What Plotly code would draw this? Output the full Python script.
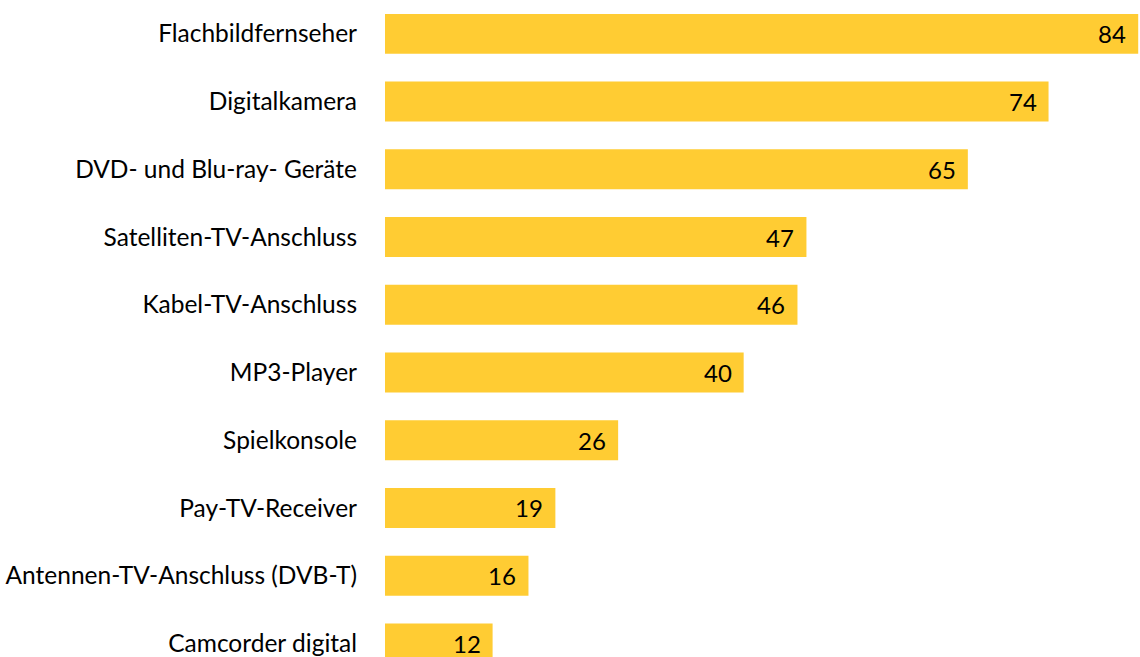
import plotly.graph_objects as go

geraete = ['Flachbildfernseher', 'Digitalkamera', 'DVD- und Blu-ray- Geräte',
           'Satelliten-TV-Anschluss', 'Kabel-TV-Anschluss', 'MP3-Player',
           'Spielkonsole', 'Pay-TV-Receiver', 'Antennen-TV-Anschluss (DVB-T)',
           'Camcorder digital']
werte = [84, 74, 65, 47, 46, 40, 26, 19, 16, 12]

fig = go.Figure(go.Bar(
    x=werte, y=geraete, orientation='h',
    marker=dict(color='#FFCC33', line=dict(width=0)),
    hoverinfo='x+y',
))

# Werte rechts in den Balken
for g, w in zip(geraete, werte):
    fig.add_annotation(x=w, y=g, text=str(w), showarrow=False,
                       xanchor='right', xshift=-10,
                       font=dict(size=24, color='black', family='Lato'))

fig.update_layout(
    width=1140, height=657,
    margin=dict(l=385, r=0, t=0, b=0, pad=0),
    plot_bgcolor='white', paper_bgcolor='white',
    bargap=0.41,
    font=dict(family='Lato', size=24.5, color='black'),
    showlegend=False,
)
fig.update_xaxes(range=[0, 84.2], visible=False, automargin=False)
fig.update_yaxes(range=[9.2, -0.5], showgrid=False, showline=False, zeroline=False,
                 ticks='', ticklabelstandoff=27, automargin=False)

fig.write_html("out.html", config={'displayModeBar': False},
               post_script="document.body.style.margin='0';")
